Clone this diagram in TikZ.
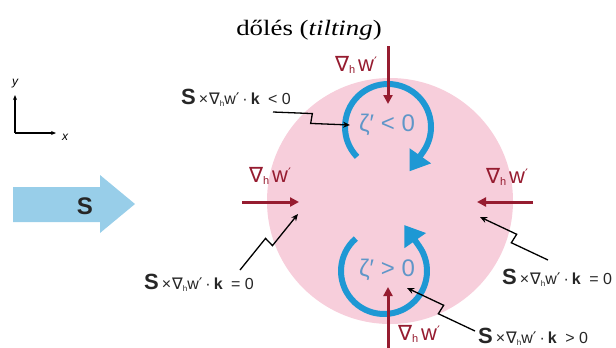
\documentclass[tikz,border=0pt]{standalone}
\usepackage{fontspec}
\setmainfont{Liberation Sans}
\newfontfamily\titlefont[FakeStretch=1.22]{Liberation Serif}
\newfontfamily\symfont{DejaVu Sans}
\usetikzlibrary{arrows.meta,calc}
\definecolor{pinkbg}{RGB}{247,206,219}
\definecolor{arcblue}{RGB}{30,152,212}
\definecolor{zetablue}{RGB}{95,150,200}
\definecolor{gradred}{RGB}{150,28,48}
\definecolor{shearblue}{RGB}{152,206,233}
\newcommand{\gradw}{{\symfont\fontsize{21bp}{21bp}\selectfont ∇}\raisebox{-0.4ex}{\fontsize{11bp}{11bp}\selectfont h}\hspace{3bp}{\fontsize{22bp}{22bp}\selectfont w}{\symfont\fontsize{13bp}{13bp}\selectfont\raisebox{0.7ex}{′}}}
\newcommand{\termlab}[1]{{\fontsize{22bp}{22bp}\selectfont\bfseries S}\hspace{3bp}{\fontsize{16bp}{16bp}\selectfont ×\hspace{1bp}{\symfont∇}\raisebox{-0.3ex}{\fontsize{8bp}{8bp}\selectfont h}w{\symfont′}\hspace{3bp}·\hspace{3bp}\textbf{k}\hspace{4bp} #1}}
\begin{document}
\begin{tikzpicture}[x=1bp,y=-1bp,
  redarrow/.style={draw=gradred,line width=3bp,-{Triangle[length=9bp,width=9bp]}},
  bluearc/.style={draw=arcblue,line width=6bp,-{Triangle[length=19bp,width=25bp]}},
  pointer/.style={draw=black,line width=1.3bp,-{Stealth[length=7bp,width=6bp]},
    to path={-- ($(\tikztostart)!0.5!(\tikztotarget)!5bp!90:(\tikztotarget)$)
             -- ($(\tikztostart)!0.5!(\tikztotarget)!5bp!-90:(\tikztotarget)$)
             -- (\tikztotarget)}},
  redlab/.style={text=gradred,inner sep=0},
  termtext/.style={text=black!85,inner sep=0},
  zeta/.style={text=zetablue,font=\fontsize{24bp}{24bp}\selectfont,inner sep=0},
  axis/.style={draw=black,line width=1.5bp,-{Stealth[length=5bp,width=4bp]}},
  axlab/.style={font=\fontsize{12bp}{12bp}\selectfont\itshape,inner sep=0}]
\useasboundingbox (0,0) rectangle (616,347);
% pink cell
\node[circle,fill=pinkbg,minimum size=246bp,inner sep=0] (cell) at (390,201) {};
% title
\node[anchor=base,inner sep=0] (title) at (309,35) {\titlefont\fontsize{22bp}{24bp}\selectfont dőlés (\textit{tilting})};
% axes
\coordinate (org) at (15,133);
\coordinate (ytip) at (15,95);
\coordinate (xtip) at (56,133);
\draw[axis] (org) -- (ytip);
\draw[axis] (org) -- (xtip);
\node[axlab] (ylab) at (15,84) {y};
\node[axlab] (xlab) at (65,137) {x};
% shear arrow
\fill[shearblue] (13,187) -- (100,187) -- (100,175) -- (135,204) -- (100,233) -- (100,222) -- (13,222) -- cycle;
\node[inner sep=0,font=\fontsize{24bp}{24bp}\selectfont\bfseries,text=black!85] (S) at (85,206) {S};
% blue vortex arcs
\coordinate (vtop) at (388,127);
\coordinate (vbot) at (384,271);
\draw[bluearc] ($(vtop)+(136:43)$) arc[start angle=136,end angle=395,radius=43] -- ++(-13.8,19.7);
\draw[bluearc] ($(vbot)+(229:43)$) arc[start angle=229,end angle=-35,radius=43] -- ++(-14.9,-21.3);
\node[zeta] (zneg) at (387,125) {ζ′ < 0};
\node[zeta] (zpos) at (387,270) {ζ′ > 0};
% red gradient arrows
\coordinate (nA) at (388,46); \coordinate (nB) at (388,104);
\coordinate (sA) at (388,352); \coordinate (sB) at (388,287);
\coordinate (wA) at (242,202); \coordinate (wB) at (299,202);
\coordinate (eA) at (533,202); \coordinate (eB) at (477,202);
\draw[redarrow] (nA) -- (nB);
\draw[redarrow] (sA) -- (sB);
\draw[redarrow] (wA) -- (wB);
\draw[redarrow] (eA) -- (eB);
\node[redlab] (gN) at (356,65) {\gradw};
\node[redlab] (gW) at (270,176) {\gradw};
\node[redlab] (gE) at (507,177) {\gradw};
\node[redlab] (gS) at (419,334) {\gradw};
% term labels
\node[termtext] (t1) at (236,98) {\termlab{< 0}};
\node[termtext] (t2) at (199,283) {\termlab{= 0}};
\node[termtext,anchor=west] (t3) at (502,278) {\termlab{= 0}};
\node[termtext,anchor=west] (t4) at (478,337) {\termlab{> 0}};
% pointers
\coordinate (p1s) at (273,112); \coordinate (p1e) at (350,125);
\coordinate (p2s) at (240,270); \coordinate (p2e) at (298,214);
\coordinate (p3s) at (548,260); \coordinate (p3e) at (480,217);
\coordinate (p4s) at (475,331); \coordinate (p4e) at (407,288);
\draw[pointer] (p1s) to (p1e);
\draw[pointer] (p2s) to (p2e);
\draw[pointer] (p3s) to (p3e);
\draw[pointer] (p4s) to (p4e);
\end{tikzpicture}
\end{document}
